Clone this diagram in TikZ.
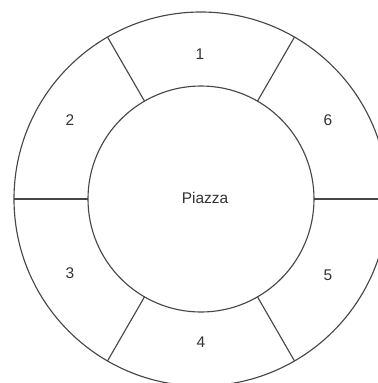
\documentclass[tikz,border=0pt]{standalone}
\usepackage{fontspec}
\setmainfont{Liberation Sans}
\usetikzlibrary{calc}
\begin{document}
\begin{tikzpicture}[x=0.75pt,y=-0.75pt,
  ring/.style={draw=black!72, line width=0.85pt},
  lbl/.style={font=\fontsize{11.6}{13}\selectfont, text=black!80, inner sep=0pt}]
\useasboundingbox (0,0) rectangle (378,383);
\fill[white] (0,0) rectangle (378,383);
\clip (0,0) rectangle (378,383);
\coordinate (c) at (201,199);
\draw[ring] (c) circle[radius=187];
\draw[ring] (c) circle[radius=113];
\foreach \a in {0,60,120,180,240,300}{
  \draw[ring] ($(c)+(\a:113)$) -- ($(c)+(\a:187)$);
}
\node[lbl] (s1) at (200,54) {1};
\node[lbl] (s2) at (70,120) {2};
\node[lbl] (s6) at (328,120) {6};
\node[lbl] (s3) at (70,273) {3};
\node[lbl] (s4) at (201,342) {4};
\node[lbl] (s5) at (328,275) {5};
\node[lbl] (pz) at (205,198) {Piazza};
\end{tikzpicture}
\end{document}
